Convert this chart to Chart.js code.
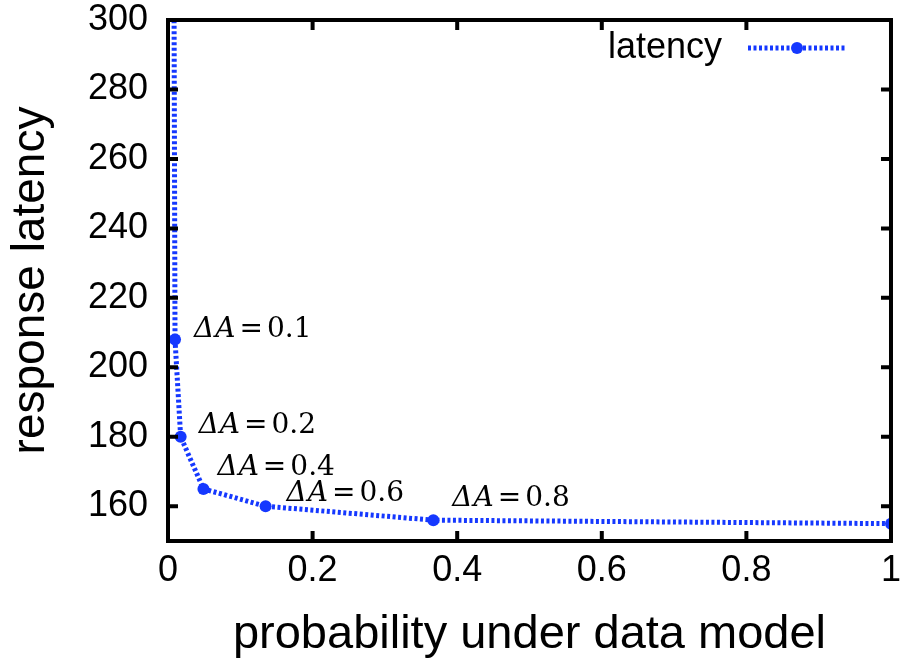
<!DOCTYPE html>
<html>
<head>
<meta charset="utf-8">
<script src="https://cdn.jsdelivr.net/npm/chart.js@4.4.1/dist/chart.umd.min.js"></script>
<style>
  html, body { margin: 0; padding: 0; background: #fff; }
</style>
</head>
<body>
<canvas id="latencyChart" width="901" height="663"></canvas>
<script>
// data
const probability = [0.008, 0.0097, 0.0175, 0.049, 0.135, 0.367, 1.0];
const latency = [330, 208, 180, 165, 160, 156, 155];
const deltaA = ["", "0.1", "0.2", "0.4", "0.6", "0.8", ""];
const xTicks = [0, 0.2, 0.4, 0.6, 0.8, 1];
const yTicks = [160, 180, 200, 220, 240, 260, 280, 300];

// label offsets from each point (px)
const labelDx = [0, 19, 18, 14, 21, 19, 0];
const labelDy = [0, -10, -11, -21, -13, -21, 0];

const BLUE = "#1538ff";
const SANS = "'Liberation Sans', Arial, Helvetica, sans-serif";
const SERIF = "'DejaVu Serif', 'Liberation Serif', serif";

const gnuplotFrame = {
  id: "gnuplotFrame",
  afterDatasetsDraw(chart) {
    const { ctx, chartArea: a, scales } = chart;
    ctx.save();
    ctx.strokeStyle = "#000";
    ctx.lineWidth = 4;
    ctx.beginPath();
    // inward ticks on all four sides
    yTicks.forEach((v) => {
      const y = scales.y.getPixelForValue(v);
      ctx.moveTo(a.left, y); ctx.lineTo(a.left + 10, y);
      ctx.moveTo(a.right, y); ctx.lineTo(a.right - 10, y);
    });
    xTicks.forEach((v) => {
      const x = scales.x.getPixelForValue(v);
      ctx.moveTo(x, a.bottom); ctx.lineTo(x, a.bottom - 10);
      ctx.moveTo(x, a.top); ctx.lineTo(x, a.top + 10);
    });
    ctx.stroke();
    ctx.strokeRect(a.left, a.top, a.right - a.left, a.bottom - a.top);

    // ΔA labels next to the points
    ctx.fillStyle = "#000";
    ctx.textBaseline = "middle";
    ctx.textAlign = "left";
    deltaA.forEach((txt, i) => {
      if (!txt) return;
      let x = scales.x.getPixelForValue(probability[i]) + labelDx[i];
      const y = scales.y.getPixelForValue(latency[i]) + labelDy[i];
      ctx.font = "italic 28px " + SERIF;
      ctx.fillText("\u0394", x, y);
      x += ctx.measureText("\u0394").width + 1;
      ctx.fillText("A", x, y);
      x += ctx.measureText("A").width + 4;
      ctx.font = "28px " + SERIF;
      ctx.fillText("=", x, y);
      x += ctx.measureText("=").width + 4;
      ctx.fillText(txt, x, y);
    });

    // legend
    ctx.font = "36px " + SANS;
    ctx.textAlign = "right";
    ctx.fillText("latency", 722, 48);
    ctx.strokeStyle = BLUE;
    ctx.lineWidth = 5;
    ctx.setLineDash([3, 2.5]);
    ctx.beginPath();
    ctx.moveTo(748, 48); ctx.lineTo(846, 48);
    ctx.stroke();
    ctx.setLineDash([]);
    ctx.fillStyle = BLUE;
    ctx.beginPath();
    ctx.arc(797, 48, 6, 0, Math.PI * 2);
    ctx.fill();
    ctx.restore();
  },
};

const ctx = document.getElementById("latencyChart").getContext("2d");
new Chart(ctx, {
  type: "line",
  data: {
    datasets: [
      {
        label: "latency",
        data: probability.map((p, i) => ({ x: p, y: latency[i] })),
        borderColor: BLUE,
        backgroundColor: BLUE,
        borderWidth: 5,
        borderDash: [3, 2.5],
        pointRadius: 6,
        pointBorderWidth: 0,
        pointBackgroundColor: BLUE,
        tension: 0,
      },
    ],
  },
  options: {
    responsive: false,
    devicePixelRatio: 1,
    animation: false,
    layout: { padding: { top: 20, right: 10, left: 0, bottom: 0 } },
    plugins: { legend: { display: false }, tooltip: { enabled: false } },
    scales: {
      x: {
        type: "linear",
        min: 0,
        max: 1,
        afterBuildTicks: (s) => { s.ticks = xTicks.map((v) => ({ value: v })); },
        afterFit: (s) => { s.height = 122; },
        grid: { display: false, drawTicks: true, tickLength: 12 },
        border: { display: false },
        ticks: {
          padding: 0,
          maxRotation: 0,
          color: "#000",
          font: { family: SANS, size: 36, lineHeight: 1 },
          callback: (v) => String(v),
        },
        title: {
          display: true,
          text: "probability under data model",
          color: "#000",
          font: { family: SANS, size: 47 },
          padding: { top: 0, bottom: 0 },
        },
      },
      y: {
        min: 150,
        max: 300,
        afterBuildTicks: (s) => { s.ticks = yTicks.map((v) => ({ value: v })); },
        afterFit: (s) => { s.width = 168; },
        grid: { display: false, drawTicks: true, tickLength: 20 },
        border: { display: false },
        ticks: {
          padding: 0,
          color: "#000",
          font: { family: SANS, size: 36, lineHeight: 1 },
        },
        title: {
          display: true,
          text: "response latency",
          color: "#000",
          font: { family: SANS, size: 46 },
          padding: { top: 4, bottom: 0 },
        },
      },
    },
  },
  plugins: [gnuplotFrame],
});
</script>
</body>
</html>
